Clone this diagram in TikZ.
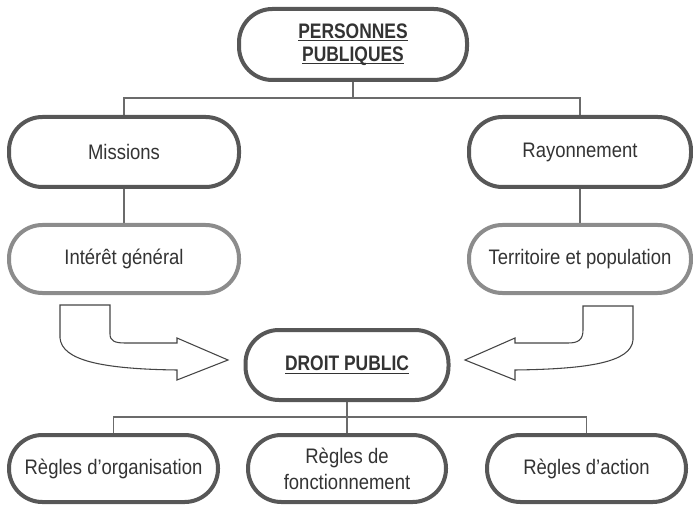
\documentclass[tikz,border=0pt]{standalone}
\usepackage{fontspec}
\setmainfont{Liberation Sans}[FakeStretch=0.88]
\newfontfamily\narrowfam{Liberation Sans}[FakeStretch=0.83]
\usetikzlibrary{backgrounds}
\definecolor{boxdark}{HTML}{575757}
\definecolor{boxlight}{HTML}{8C8C8C}
\definecolor{connc}{HTML}{6B6B6B}
\definecolor{txt}{HTML}{333333}
\definecolor{arrc}{HTML}{454545}
\newcommand\ulx[1]{\setbox0\hbox{#1}\rlap{\rule[-2.2pt]{\wd0}{0.9pt}}\box0}
\tikzset{
  box/.style={draw=boxdark, line width=3pt, rounded corners=25pt, fill=white,
    inner sep=0pt, align=center, text=txt,
    font=\fontsize{15.75}{19.5}\selectfont},
  lightbox/.style={box, draw=boxlight},
  hdr/.style={box, font=\narrowfam\bfseries\fontsize{15.75}{17.25}\selectfont},
  conn/.style={draw=connc, line width=1.1pt},
  blockarrow/.style={draw=arrc, line width=0.8pt, fill=white, line join=miter}
}
\begin{document}
\begin{tikzpicture}[x=0.75pt,y=-0.75pt]
\useasboundingbox (0,0) rectangle (693,506);
% nodes
\node[hdr, minimum width=171pt, minimum height=53.25pt] (top) at (353,44.5) {\ulx{PERSONNES}\\\ulx{PUBLIQUES}};
\node[box, minimum width=172.5pt, minimum height=52.5pt] (mis) at (124,152) {Missions};
\node[box, minimum width=166.5pt, minimum height=52.5pt] (ray) at (580,152) {Rayonnement};
\node[lightbox, minimum width=172.5pt, minimum height=51pt] (int) at (124,259) {Intérêt général};
\node[lightbox, minimum width=166.5pt, minimum height=51pt] (ter) at (580,259) {Territoire et population};
\node[hdr, minimum width=152.25pt, minimum height=52.5pt] (dp) at (347,365) {\ulx{DROIT PUBLIC}};
\node[box, minimum width=156.75pt, minimum height=50.25pt] (b1) at (113.5,468.5) {Règles d’organisation};
\node[box, minimum width=148.5pt, minimum height=50.25pt] (b2) at (347,468.5) {Règles de\\fonctionnement};
\node[box, minimum width=149.25pt, minimum height=50.25pt] (b3) at (586.5,468.5) {Règles d’action};
% connectors
\coordinate (j1) at (353,98);
\coordinate (j2) at (347,417);
\begin{pgfonlayer}{background}
\draw[conn] (top.center) -- (j1);
\draw[conn] (mis.center) |- (j1) -| (ray.center);
\draw[conn] (mis.center) -- (int.center);
\draw[conn] (ray.center) -- (ter.center);
\draw[conn] (dp.center) -- (b2.center);
\draw[conn] (b1.center) |- (j2) -| (b3.center);
\end{pgfonlayer}
% block arrows
\draw[blockarrow] (60,305) -- (110,305) -- (110,334)
  .. controls (110,341) and (115,343) .. (125,343) -- (177,343) -- (177,338)
  -- (228,360) -- (177,380) -- (177,370)
  .. controls (100,369) and (62,360) .. (60,338) -- cycle;
\draw[blockarrow] (633,306) -- (583,306) -- (583,330)
  .. controls (583,340) and (578,343) .. (568,343) -- (515,343) -- (515,338)
  -- (465,360) -- (515,380) -- (515,370)
  .. controls (590,369) and (631,362) .. (633,340) -- cycle;
\end{tikzpicture}
\end{document}
